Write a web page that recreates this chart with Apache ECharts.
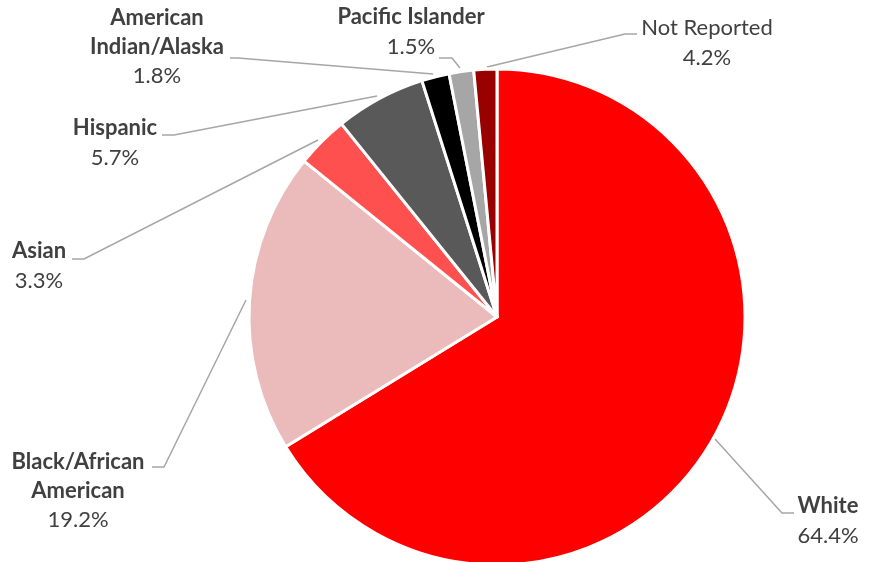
<!DOCTYPE html>
<html>
<head>
<meta charset="utf-8">
<script src="https://cdn.jsdelivr.net/npm/echarts@6/dist/echarts.min.js"></script>
<style>html,body{margin:0;padding:0;background:#fff}#c{width:874px;height:562px}</style>
</head>
<body>
<div id="c"></div>
<script>
// Categories (display names, with line breaks as in the reference)
const categories = ['White', 'Black/African\nAmerican', 'Asian', 'Hispanic', 'American\nIndian/Alaska', 'Pacific Islander', 'Not Reported'];
// Slice shares
const sliceValues = [66.3, 19.6, 3.4, 5.9, 1.8, 1.6, 1.5];
// Percent labels printed in the chart
const percentLabels = ['64.4%', '19.2%', '3.3%', '5.7%', '1.8%', '1.5%', '4.2%'];
const sliceColors = ['#FF0000', '#EBBBBB', '#FF5050', '#595959', '#000000', '#A6A6A6', '#990000'];

// label placement (pixels) and leader lines
const labelPos = [
  {x: 828, y: 521, line: [[715, 439], [782, 513], [794, 513]]},
  {x: 78,  y: 491, line: [[246, 300], [164, 467], [152, 467]]},
  {x: 39,  y: 266, line: [[318, 140], [84, 259], [72, 259]]},
  {x: 115, y: 143, line: [[377, 96], [174, 135], [162, 135]]},
  {x: 157, y: 47,  line: [[433, 74], [238, 58], [230, 58]]},
  {x: 411, y: 32,  line: [[460, 68], [452, 58], [439, 58]]},
  {x: 707, y: 43,  line: [[487, 67], [625, 34], [637, 34]]}
];

const chart = echarts.init(document.getElementById('c'));
chart.setOption({
  animation: false,
  series: [{
    type: 'pie',
    center: [497, 317],
    radius: 248,
    startAngle: 90,
    clockwise: true,
    avoidLabelOverlap: false,
    itemStyle: {borderColor: '#fff', borderWidth: 3},
    data: categories.map((c, i) => ({
      name: c,
      value: sliceValues[i],
      itemStyle: {color: sliceColors[i]}
    })),
    label: {
      show: true,
      fontFamily: 'Lato',
      formatter: p => {
        const nm = p.name.split('\n').map(s => (p.dataIndex === 6 ? '{r|' : '{b|') + s + '}').join('\n');
        return nm + '\n{p|' + percentLabels[p.dataIndex] + '}';
      },
      rich: {
        b: {fontFamily: 'Lato', fontWeight: 'bold', fontSize: 22, color: '#404040', lineHeight: 29, align: 'center'},
        r: {fontFamily: 'Lato', fontWeight: 'normal', fontSize: 22, color: '#404040', lineHeight: 29, align: 'center'},
        p: {fontFamily: 'Lato', fontSize: 22, color: '#404040', lineHeight: 30, align: 'center'}
      }
    },
    labelLine: {show: true, smooth: false, lineStyle: {color: '#A6A6A6', width: 1.5}},
    labelLayout: params => {
      const l = labelPos[params.dataIndex];
      return {x: l.x, y: l.y, align: 'center', verticalAlign: 'middle', labelLinePoints: l.line};
    }
  }]
});
</script>
</body>
</html>
